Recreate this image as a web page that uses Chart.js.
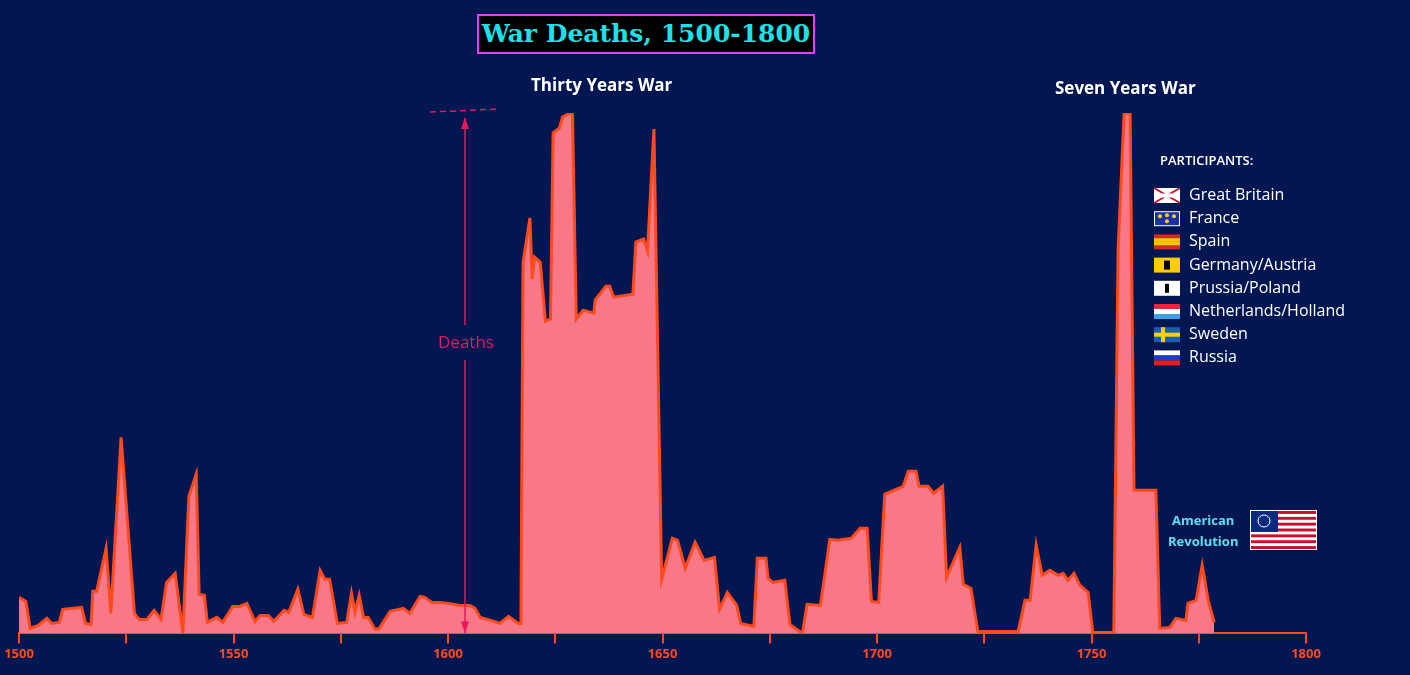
<!DOCTYPE html>
<html><head><meta charset="utf-8">
<script src="https://cdn.jsdelivr.net/npm/chart.js@4"></script>
<style>
html,body{margin:0;padding:0;background:#021652;width:1410px;height:675px;overflow:hidden;font-family:"Open Sans",sans-serif}
#wrap{position:absolute;left:0;top:0;width:1410px;height:675px}
.t{position:absolute;white-space:nowrap}
#title{left:477px;top:14px;width:334px;height:36px;border:2px solid #e040fb;background:#000;color:#1ee0e8;font:bold 25px "DejaVu Serif",serif;text-align:center;line-height:36px}
.war{color:#fff;font-weight:bold;font-size:17px}
.leg{color:#fff;font-size:16px}
</style></head><body>
<div id="wrap"><canvas id="c" width="1410" height="675"></canvas></div>
<div id="title" class="t">War Deaths, 1500-1800</div>
<div class="t war" style="left:531px;top:73px">Thirty Years War</div>
<div class="t war" style="left:1055px;top:76px">Seven Years War</div>
<div class="t" style="left:438px;top:330px;color:#e8185a;font-size:17px">Deaths</div>
<div class="t" style="left:1160px;top:151px;color:#fff;font-size:13px;font-weight:600">PARTICIPANTS:</div>
<div class="t" style="left:1168px;top:510px;color:#5fe0ee;font-size:13px;font-weight:bold;text-align:center;line-height:21px">American<br>Revolution</div>
<div id="legend"></div>
<script>
const years=[1500,1501.6,1502.6,1504.5,1506.5,1507.6,1509.4,1510.2,1514.6,1515.5,1516.8,1517.2,1518.1,1520.3,1521.4,1523.8,1526.9,1528,1529.8,1531.5,1533.1,1534.4,1536.4,1538.2,1539.6,1541.3,1542,1543.2,1543.9,1546.1,1547.5,1549.8,1551.4,1553.1,1555,1556.2,1558.1,1559.4,1561.8,1562.9,1565,1566.4,1568.4,1570.2,1571.3,1572.4,1574.2,1576.4,1577.5,1578.3,1579.3,1580.3,1581.4,1583,1584,1586.5,1589.6,1591.1,1593.5,1594.6,1596.2,1598.1,1600.1,1602.8,1605.1,1606.3,1607.5,1610,1612.1,1614.1,1616.4,1617,1617.5,1619.1,1619.6,1620.2,1621.5,1622.7,1623.9,1624.5,1626,1626.7,1629,1629.9,1631.5,1634,1634.3,1636.8,1637.7,1638.6,1643.1,1643.8,1645.6,1646.5,1648,1649.8,1652.3,1653.5,1655.3,1657.6,1659.7,1662.1,1663.3,1665.1,1667.3,1668.2,1671.3,1672.1,1674.1,1674.6,1675.7,1678.5,1679.7,1682.6,1683.7,1686.8,1689,1690.9,1694,1696.1,1697.7,1698.7,1700.4,1701.8,1706.1,1707.3,1709.1,1709.8,1711.9,1713.2,1715.3,1716.2,1719.3,1720.1,1721.9,1723.5,1732.9,1734.5,1735.7,1737.1,1738.5,1740.3,1742.2,1743.4,1744.5,1745.9,1747.3,1749.2,1750.3,1755.2,1756.2,1757.6,1759,1759.9,1765,1765.9,1768.3,1769.7,1772,1772.5,1774.4,1775.8,1777.2,1778.6];
const deaths=[36,32,5,8,15,10,11,24,26,10,9,42,42,85,20,196,20,14,14,23,14,51,60,0,137,159,39,38,11,16,11,27,27,30,12,18,18,12,23,21,44,19,16,63,54,54,10,11,40,21,38,16,16,4,5,22,25,20,37,36,31,31,30,28,28,25,16,13,10,17,10,10,371,415,354,376,371,312,314,500,505,516,521,314,323,320,333,347,347,336,339,391,394,382,504,54,95,93,65,91,73,76,24,41,28,10,7,75,75,55,51,53,9,0,29,28,94,93,95,105,105,32,31,139,147,162,162,147,147,140,147,56,86,49,45,2,2,33,33,88,58,63,58,60,53,60,48,41,1,1,383,520,520,143,143,5,6,15,13,30,33,68,33,11];
const participants=["Great Britain","France","Spain","Germany/Austria","Prussia/Poland","Netherlands/Holland","Sweden","Russia"];
const tickYears=[1500,1525,1550,1575,1600,1625,1650,1675,1700,1725,1750,1775,1800];

const leg=document.getElementById('legend');
participants.forEach((p,i)=>{const d=document.createElement('div');d.className='t leg';d.style.left='1189px';d.style.top=(183+i*23.2)+'px';d.textContent=p;leg.appendChild(d);});

function flags(ctx){
  const x=1154,w=26,h=15;
  const stripes=(y,cols)=>{cols.forEach((c,i)=>{ctx.fillStyle=c;ctx.fillRect(x,y+i*h/cols.length,w,h/cols.length);});};
  const y0=i=>188+i*23.2;
  // GB
  let y=y0(0);ctx.fillStyle='#fff';ctx.fillRect(x,y,w,h);ctx.strokeStyle='#c8102e';ctx.lineWidth=2;
  ctx.beginPath();ctx.moveTo(x,y);ctx.lineTo(x+w,y+h);ctx.moveTo(x+w,y);ctx.lineTo(x,y+h);ctx.stroke();
  ctx.fillRect(x+w/2-2,y,4,h);ctx.fillRect(x,y+h/2-2,w,4);
  // France
  y=y0(1);ctx.fillStyle='#fff';ctx.fillRect(x,y,w,h);ctx.fillStyle='#1a2fb0';ctx.fillRect(x+1,y+1,w-2,h-2);ctx.fillStyle='#ffd200';
  [[6,5],[13,4],[20,5],[13,10]].forEach(([a,b])=>{ctx.beginPath();ctx.arc(x+a,y+b,2,0,7);ctx.fill();});
  stripes(y0(2),['#d52b1e','#ffc400','#ffc400','#d52b1e']);
  y=y0(3);ctx.fillStyle='#ffcc00';ctx.fillRect(x,y,w,h);ctx.fillStyle='#000';ctx.fillRect(x+10,y+3,6,9);
  y=y0(4);ctx.fillStyle='#fff';ctx.fillRect(x,y,w,h);ctx.fillStyle='#000';ctx.fillRect(x+11,y+3,4,9);
  stripes(y0(5),['#e8283c','#fff','#3fa0e8']);
  y=y0(6);ctx.fillStyle='#1b5fb0';ctx.fillRect(x,y,w,h);ctx.fillStyle='#ffd000';ctx.fillRect(x+7,y,4,h);ctx.fillRect(x,y+h/2-2,w,4);
  stripes(y0(7),['#fff','#1a3fd0','#e02020']);
  // US flag
  const fx=1250,fy=510,fw=67,fh=40;ctx.fillStyle='#fff';ctx.fillRect(fx,fy,fw,fh);
  for(let i=0;i<13;i+=2){ctx.fillStyle='#c8102e';ctx.fillRect(fx+1,fy+1+i*(fh-2)/13,fw-2,(fh-2)/13);}
  ctx.fillStyle='#0a2a80';ctx.fillRect(fx+1,fy+1,27,21);ctx.strokeStyle='#fff';ctx.lineWidth=1;ctx.beginPath();ctx.arc(fx+14,fy+11,6,0,7);ctx.stroke();
}

const overlay={id:'ov',afterDraw(ch){const ctx=ch.ctx;ctx.save();
  const xs=ch.scales.x,ys=ch.scales.y;const ax=465;
  ctx.strokeStyle='#e8185a';ctx.fillStyle='#e8185a';ctx.lineWidth=1.5;
  ctx.beginPath();ctx.moveTo(ax,ys.getPixelForValue(515));ctx.lineTo(ax,325);ctx.moveTo(ax,360);ctx.lineTo(ax,ys.getPixelForValue(0));ctx.stroke();
  ctx.beginPath();ctx.moveTo(ax,ys.getPixelForValue(516));ctx.lineTo(ax-4,ys.getPixelForValue(504));ctx.lineTo(ax+4,ys.getPixelForValue(504));ctx.fill();
  ctx.beginPath();ctx.moveTo(ax,ys.getPixelForValue(0));ctx.lineTo(ax-4,ys.getPixelForValue(12));ctx.lineTo(ax+4,ys.getPixelForValue(12));ctx.fill();
  ctx.setLineDash([6,4]);ctx.beginPath();ctx.moveTo(430,ys.getPixelForValue(521));ctx.lineTo(500,ys.getPixelForValue(524));ctx.stroke();ctx.setLineDash([]);
  flags(ctx);ctx.restore();}};

new Chart(document.getElementById('c'),{type:'line',
 data:{datasets:[{data:years.map((y,i)=>({x:y,y:deaths[i]})),borderColor:'#ff4a1c',borderWidth:3,backgroundColor:'#f87888',fill:'origin',pointRadius:0,tension:0}]},
 options:{responsive:false,animation:false,events:[],
  layout:{padding:{left:19,right:104,top:113,bottom:10}},
  plugins:{legend:{display:false},tooltip:{enabled:false}},
  scales:{
   x:{type:'linear',min:1500,max:1800,afterBuildTicks:a=>{a.ticks=tickYears.map(v=>({value:v}));},
      ticks:{color:'#ff4a1c',font:{family:'Open Sans',weight:'bold',size:13},maxRotation:0,autoSkip:false,callback:v=>v%50===0?String(v):''},
      grid:{drawOnChartArea:false,drawTicks:true,tickLength:10,color:'#ff4a1c',lineWidth:2},
      border:{color:'#ff4a1c',width:2}},
   y:{display:false,min:0,max:520}}},
 plugins:[overlay]});
</script></body></html>
